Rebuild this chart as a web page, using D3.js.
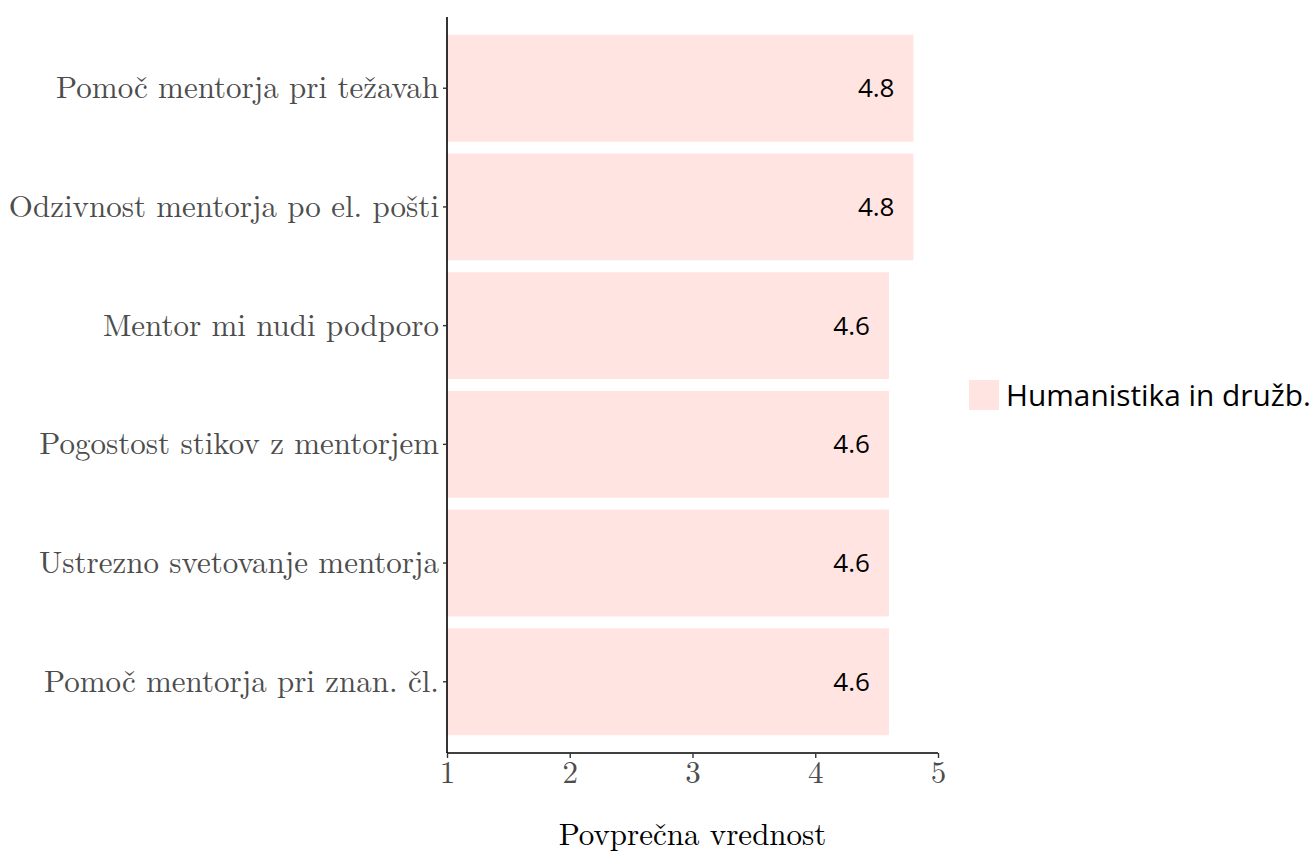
<!DOCTYPE html>
<html>
<head>
<meta charset="utf-8">
<script src="https://cdn.jsdelivr.net/npm/d3@7"></script>
<style>
  html, body { margin: 0; padding: 0; background: #fff; }
  svg { display: block; }
</style>
</head>
<body>
<svg id="chart" width="1312" height="854"></svg>
<script>
const categories = [
  "Pomoč mentorja pri težavah",
  "Odzivnost mentorja po el. pošti",
  "Mentor mi nudi podporo",
  "Pogostost stikov z mentorjem",
  "Ustrezno svetovanje mentorja",
  "Pomoč mentorja pri znan. čl."
];
const values = [4.8, 4.8, 4.6, 4.6, 4.6, 4.6];
const valueLabels = ["4.8", "4.8", "4.6", "4.6", "4.6", "4.6"];
const xTicks = [1, 2, 3, 4, 5];
const seriesName = "Humanistika in družb.";
const xTitle = "Povprečna vrednost";

(function () {
const svg = d3.select("#chart");
const serif = "'Latin Modern Roman', 'CMU Serif', 'Liberation Serif', serif";
const sans = "'Open Sans', 'Noto Sans', sans-serif";
const barColor = "#FFE4E1";

const pLeft = 447, pRight = 938, pTop = 17, pBottom = 753;

const x = d3.scaleLinear().domain([1, 5]).range([pLeft, pRight]);
const y = d3.scaleBand().domain(categories).range([pTop, pBottom])
  .paddingInner(0.1).paddingOuter(0.15);

// bars
svg.append("g").selectAll("rect").data(categories).join("rect")
  .attr("x", x(1))
  .attr("y", d => y(d))
  .attr("width", (d, i) => x(values[i]) - x(1))
  .attr("height", y.bandwidth())
  .attr("fill", barColor);

// value labels
svg.append("g").selectAll("text").data(categories).join("text")
  .attr("x", (d, i) => x(values[i]) - 19)
  .attr("y", d => y(d) + y.bandwidth() / 2)
  .attr("dy", "0.35em")
  .attr("text-anchor", "end")
  .attr("font-family", sans)
  .attr("font-size", 26)
  .attr("fill", "#000")
  .text((d, i) => valueLabels[i]);

// y axis
const yAxis = svg.append("g").attr("transform", `translate(${pLeft},0)`)
  .call(d3.axisLeft(y).tickSize(4).tickPadding(4));
yAxis.select(".domain").attr("d", `M0,${pTop}V${pBottom}`).attr("stroke", "#000").attr("stroke-width", 1.6);
yAxis.selectAll(".tick line").attr("stroke", "#333").attr("stroke-width", 1.4);
yAxis.selectAll(".tick text")
  .attr("font-family", serif).attr("font-size", 31).attr("fill", "#4D4D4D");

// x axis
const xAxis = svg.append("g").attr("transform", `translate(0,${pBottom})`)
  .call(d3.axisBottom(x).tickValues(xTicks).tickFormat(d3.format("d")).tickSize(5).tickPadding(3));
xAxis.select(".domain").attr("d", `M${pLeft},0H${pRight}`).attr("stroke", "#000").attr("stroke-width", 1.6);
xAxis.selectAll(".tick line").attr("stroke", "#333").attr("stroke-width", 1.4);
xAxis.selectAll(".tick text")
  .attr("font-family", serif).attr("font-size", 31).attr("fill", "#4D4D4D");

// x title
svg.append("text")
  .attr("x", (pLeft + pRight) / 2)
  .attr("y", 845)
  .attr("text-anchor", "middle")
  .attr("font-family", serif).attr("font-size", 31).attr("fill", "#000")
  .text(xTitle);

// legend
const lg = svg.append("g").attr("transform", "translate(969,380)");
lg.append("rect").attr("width", 30).attr("height", 30).attr("fill", barColor);
lg.append("text").attr("x", 37).attr("y", 16).attr("dy", "0.35em")
  .attr("font-family", sans).attr("font-size", 29.8).attr("fill", "#000")
  .text(seriesName);
})();
</script>
</body>
</html>
